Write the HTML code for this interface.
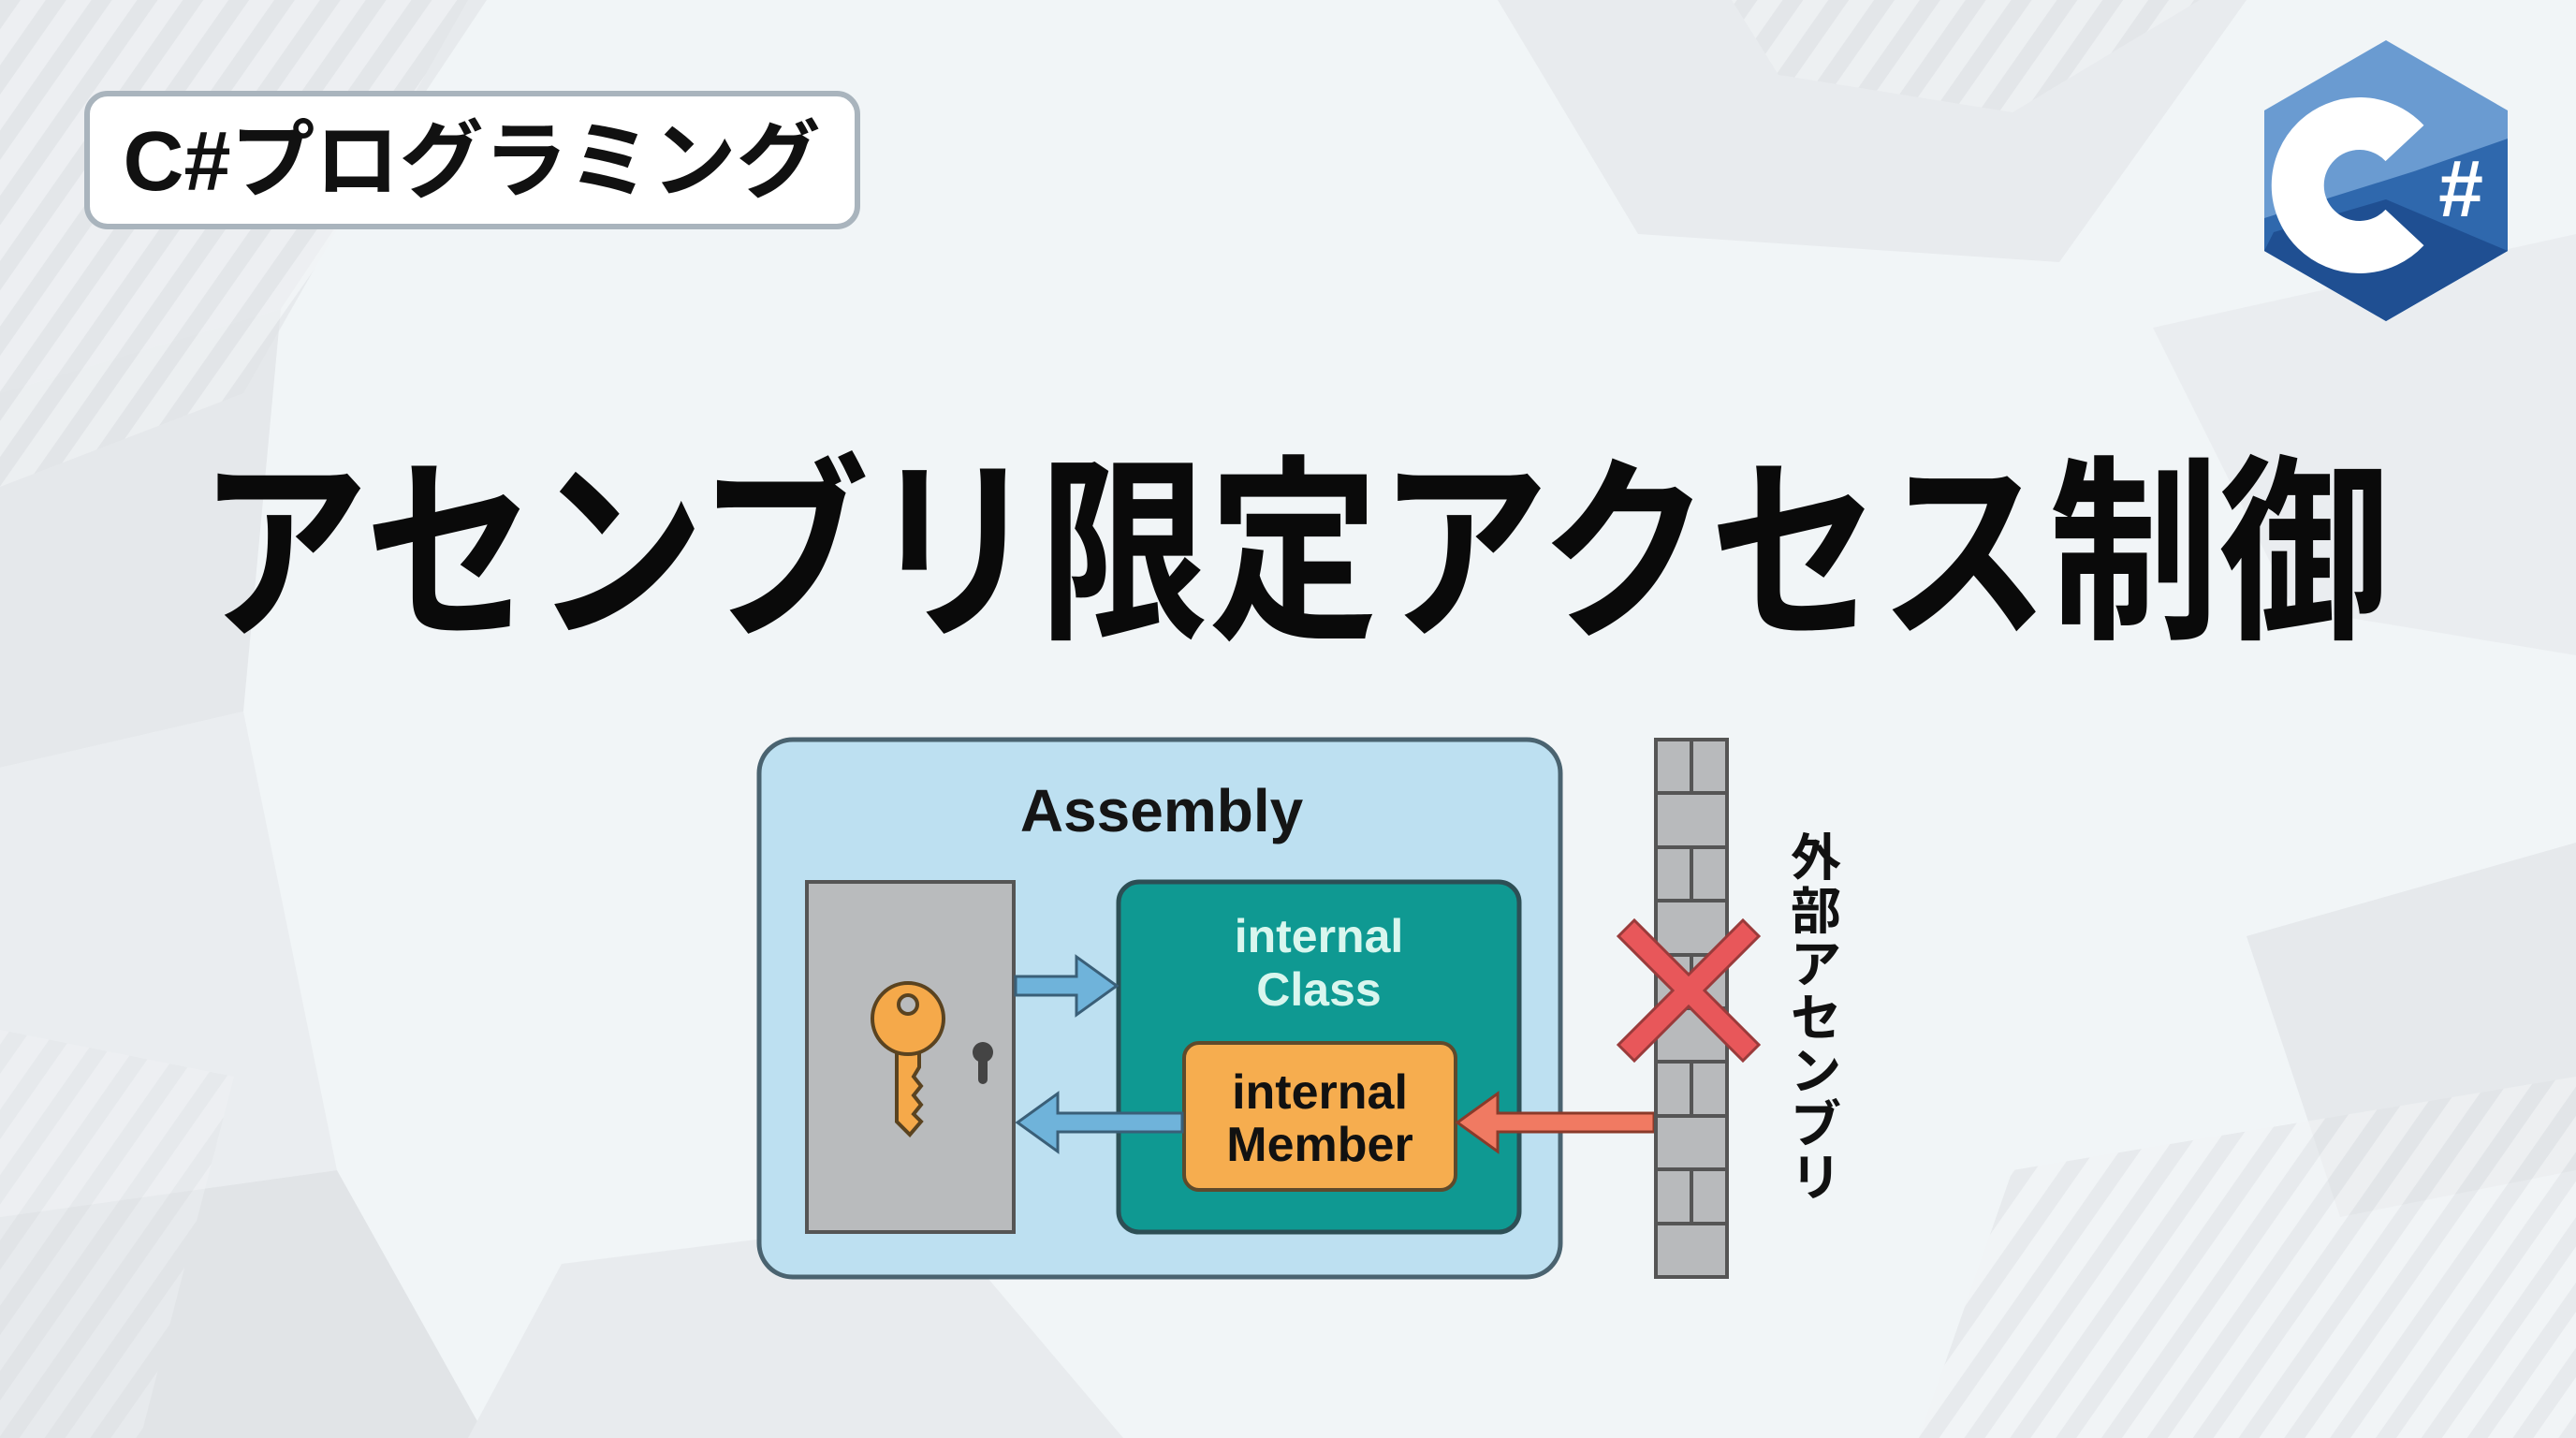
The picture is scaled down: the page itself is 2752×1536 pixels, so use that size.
<!DOCTYPE html>
<html><head><meta charset="utf-8"><style>
html,body{margin:0;padding:0;width:2752px;height:1536px;overflow:hidden;background:#f1f5f7}
svg{display:block}
text{font-family:"Liberation Sans","Noto Sans CJK JP",sans-serif}
</style></head><body>
<svg width="2752" height="1536" viewBox="0 0 2752 1536" xmlns="http://www.w3.org/2000/svg">
<defs>
<pattern id="st" width="40" height="40" patternUnits="userSpaceOnUse" patternTransform="rotate(35)">
<rect width="40" height="40" fill="#f1f3f5"/><rect width="18" height="40" fill="#e0e3e6"/></pattern>
</defs>
<rect width="2752" height="1536" fill="#f1f5f7"/>
<polygon points="0,0 520,0 300,330 0,420" fill="#e7eaed"/>
<polygon points="0,420 300,330 260,760 0,820" fill="#e5e8eb"/>
<polygon points="0,820 260,760 360,1250 0,1300" fill="#eaedf0"/>
<polygon points="0,1300 360,1250 520,1536 0,1536" fill="#e1e4e7"/>
<polygon points="1600,0 2400,0 2200,280 1750,250" fill="#e8ebee"/>
<polygon points="2300,350 2752,250 2752,700 2450,650" fill="#eaedf0"/>
<polygon points="2400,1000 2752,900 2752,1250 2500,1300" fill="#e6e9ec"/>
<polygon points="600,1350 1000,1300 1200,1536 500,1536" fill="#e8ebee"/>
<polygon points="0,0 500,0 260,420 0,520" fill="url(#st)" opacity="0.6"/>
<polygon points="1850,0 2350,0 2150,120 1900,80" fill="url(#st)" opacity="0.6"/>
<polygon points="2150,1250 2752,1150 2752,1536 2050,1536" fill="url(#st)" opacity="0.6"/>
<polygon points="0,1100 250,1150 150,1536 0,1536" fill="url(#st)" opacity="0.4"/>

<rect x="93" y="100" width="823" height="142" rx="22" fill="#fff" stroke="#a9b4bd" stroke-width="6"/>
<text x="504" y="203" text-anchor="middle" font-size="90" font-weight="bold" fill="#111">C#プログラミング</text>

<g transform="translate(2549,193)">
<polygon points="0,-150 130,-75 130,75 0,150 -130,75 -130,-75" fill="#6a9bd1"/>
<polygon points="130,-45 130,75 0,150 -130,75 -130,40 30,-10" fill="#2f68ad"/>
<polygon points="130,75 0,150 -130,75 -120,55 0,20" fill="#1f4f92"/>
<path d="M 20,50 A 66 66 0 1 1 20,-40" fill="none" stroke="#fff" stroke-width="56"/>
<text x="80" y="38" text-anchor="middle" font-size="86" font-weight="bold" fill="#fff">#</text>
</g>

<text x="1382" y="665" text-anchor="middle" font-size="212" font-weight="bold" fill="#0a0a0a" textLength="2340" lengthAdjust="spacingAndGlyphs">アセンブリ限定アクセス制御</text>

<rect x="811" y="790" width="856" height="574" rx="36" fill="#bde0f1" stroke="#4a6370" stroke-width="5"/>
<text x="1241" y="888" text-anchor="middle" font-size="64" font-weight="bold" fill="#151515">Assembly</text>

<rect x="862" y="942" width="221" height="374" fill="#b9bbbd" stroke="#555" stroke-width="4"/>
<circle cx="1050" cy="1124" r="11" fill="#444"/><rect x="1045" y="1124" width="10" height="34" rx="5" fill="#444"/>
<g fill="#f5a94a" stroke="#5a4320" stroke-width="4">
<path d="M958,1110 L958,1198 L972,1212 L984,1198 L976,1190 L984,1180 L976,1170 L984,1160 L976,1150 L982,1140 L982,1110 Z"/>
<circle cx="970" cy="1088" r="38"/>
</g>
<circle cx="970" cy="1073" r="10" fill="#b9bbbd" stroke="#5a4320" stroke-width="4"/>

<rect x="1195" y="942" width="428" height="374" rx="22" fill="#0f9992" stroke="#2d4f55" stroke-width="5"/>
<text x="1409" y="1017" text-anchor="middle" font-size="50" font-weight="bold" fill="#d9f6ee">internal</text>
<text x="1409" y="1074" text-anchor="middle" font-size="50" font-weight="bold" fill="#d9f6ee">Class</text>

<rect x="1265" y="1114" width="290" height="157" rx="16" fill="#f6ad4f" stroke="#5e4a2c" stroke-width="4"/>
<text x="1410" y="1184" text-anchor="middle" font-size="52" font-weight="bold" fill="#111">internal</text>
<text x="1410" y="1240" text-anchor="middle" font-size="52" font-weight="bold" fill="#111">Member</text>

<polygon points="1085,1043 1150,1043 1150,1022 1193,1053 1150,1084 1150,1063 1085,1063" fill="#6fb3da" stroke="#3a5f78" stroke-width="3"/>
<polygon points="1263,1189 1130,1189 1130,1168 1087,1199 1130,1230 1130,1209 1263,1209" fill="#6fb3da" stroke="#3a5f78" stroke-width="3"/>
<polygon points="1767,1189 1600,1189 1600,1168 1557,1199 1600,1230 1600,1209 1767,1209" fill="#f07a62" stroke="#8a3a2a" stroke-width="3"/>

<rect x="1769" y="790" width="76" height="574" fill="#b8babc" stroke="#555" stroke-width="4"/>
<g stroke="#555" stroke-width="4">
<line x1="1769" y1="847" x2="1845" y2="847"/><line x1="1769" y1="905" x2="1845" y2="905"/>
<line x1="1769" y1="962" x2="1845" y2="962"/><line x1="1769" y1="1020" x2="1845" y2="1020"/>
<line x1="1769" y1="1077" x2="1845" y2="1077"/><line x1="1769" y1="1134" x2="1845" y2="1134"/>
<line x1="1769" y1="1192" x2="1845" y2="1192"/><line x1="1769" y1="1249" x2="1845" y2="1249"/>
<line x1="1769" y1="1307" x2="1845" y2="1307"/>
<line x1="1807" y1="790" x2="1807" y2="847"/><line x1="1807" y1="905" x2="1807" y2="962"/>
<line x1="1807" y1="1020" x2="1807" y2="1077"/><line x1="1807" y1="1134" x2="1807" y2="1192"/>
<line x1="1807" y1="1249" x2="1807" y2="1307"/>
</g>
<g transform="translate(1804,1058)" fill="#e8575a" stroke="#9a3b3b" stroke-width="3">
<polygon points="-75,-58 -58,-75 0,-17 58,-75 75,-58 17,0 75,58 58,75 0,17 -58,75 -75,58 -17,0"/>
</g>
<g font-size="54" font-weight="bold" fill="#111" text-anchor="middle">
<text x="1940" y="935">外</text><text x="1940" y="992">部</text><text x="1940" y="1049">ア</text>
<text x="1940" y="1106">セ</text><text x="1940" y="1163">ン</text><text x="1940" y="1220">ブ</text><text x="1940" y="1277">リ</text>
</g>
</svg>
</body></html>
